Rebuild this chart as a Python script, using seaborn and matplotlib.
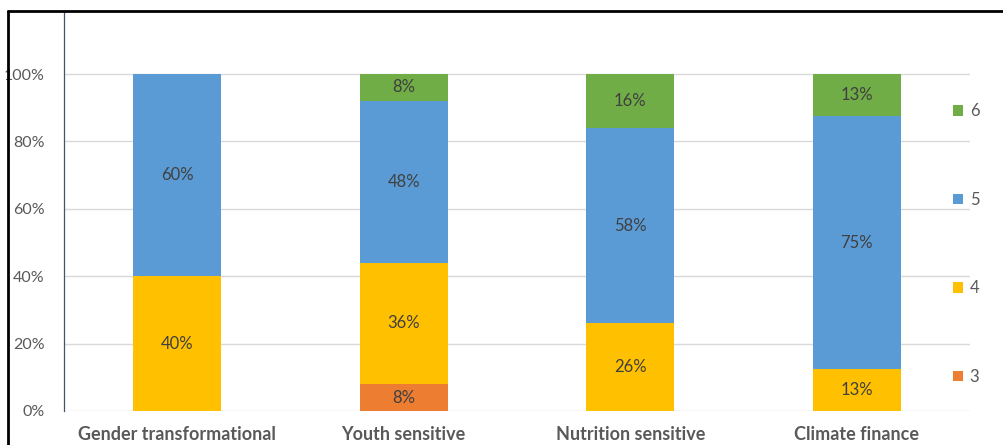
import seaborn as sns
import matplotlib.pyplot as plt
import pandas as pd
import numpy as np
from matplotlib.patches import Patch
from matplotlib.lines import Line2D

# data (shares per category)
categories = ["Gender transformational", "Youth sensitive", "Nutrition sensitive", "Climate finance"]
score3 = [0, 8, 0, 0]
score4 = [40, 36, 26, 12.5]
score5 = [60, 48, 58, 75]
score6 = [0, 8, 16, 12.5]

colors = {"3": "#ED7D31", "4": "#FFC000", "5": "#5B9BD5", "6": "#70AD47"}

sns.set_style("white")
plt.rcParams['font.family'] = ['Lato', 'DejaVu Sans']

layers = [("3", score3), ("4", score4), ("5", score5), ("6", score6)]
df = pd.DataFrame({"cat": categories})
cum = np.zeros(len(categories))
bottoms = {}
for name, vals in layers:
    bottoms[name] = cum.copy()
    cum = cum + np.array(vals)
    df["top" + name] = cum / 100

fig = plt.figure(figsize=(10.04, 4.45), dpi=100)
ax = fig.add_axes([64 / 1004, 34 / 445, (970 - 64) / 1004, 400 / 445])

# stacked by overdrawing cumulative totals, tallest first
for name, vals in reversed(layers):
    sns.barplot(data=df, x="cat", y="top" + name, color=colors[name],
                saturation=1, width=0.39, ax=ax, zorder=3, linewidth=0)

for name, vals in layers:
    for i, v in enumerate(vals):
        if v > 0:
            mid = (bottoms[name][i] + v / 2) / 100
            ax.text(i, mid, "%d%%" % int(v + 0.5), ha="center", va="center",
                    fontsize=12, color="#404040", zorder=5)

ax.set_ylim(0, 400 / 337)
ax.set_xlim(-0.5, 3.5)
ax.set_yticks(np.arange(0, 1.01, 0.2))
ax.set_yticklabels(["%d%%" % (t * 100) for t in np.arange(0, 1.01, 0.2)],
                   fontsize=11.5, color="#595959")
ax.set_xticks(range(len(categories)))
ax.set_xticklabels(categories, fontsize=13, fontweight="bold", color="#595959")
ax.tick_params(axis="y", length=0, pad=14)
ax.tick_params(axis="x", length=0, pad=11)
ax.set_xlabel("")
ax.set_ylabel("")
for t in np.arange(0, 1.01, 0.2):
    ax.axhline(t, color="#D9D9D9", lw=1, zorder=1)
for s in ["top", "right", "bottom"]:
    ax.spines[s].set_visible(False)
ax.spines["left"].set_color("#44546A")
ax.spines["left"].set_linewidth(0.9)

handles = [Patch(facecolor=colors[n], edgecolor="none") for n in ["6", "5", "4", "3"]]
fig.legend(handles, ["6", "5", "4", "3"], loc="center left",
           bbox_to_anchor=(953 / 1004, (445 - 244) / 445), frameon=False,
           fontsize=12, labelcolor="#595959", handlelength=0.6, handleheight=0.6,
           handletextpad=0.4, labelspacing=4.35, borderpad=0, borderaxespad=0)

# outer frame (cropped screenshot)
fig.add_artist(Line2D([8 / 1004, 1.0], [1 - 11 / 445, 1 - 11 / 445], color="black", lw=2))
fig.add_artist(Line2D([8 / 1004, 8 / 1004], [0, 1 - 11 / 445], color="black", lw=2))

fig.savefig("out.png", dpi=100)
